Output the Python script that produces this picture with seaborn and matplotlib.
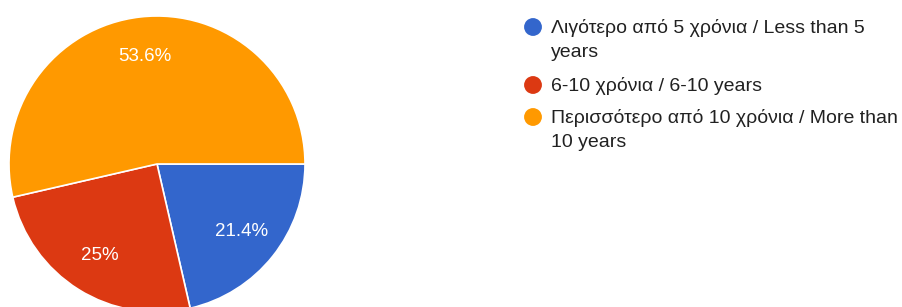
import seaborn as sns
import matplotlib.pyplot as plt
import numpy as np

labels = [
    "Λιγότερο από 5 χρόνια / Less than 5\nyears",
    "6-10 χρόνια / 6-10 years",
    "Περισσότερο από 10 χρόνια / More than\n10 years",
]
shares = [21.4, 25.0, 53.6]
pct_text = ["21.4%", "25%", "53.6%"]
colors = sns.color_palette(["#3366CC", "#DC3912", "#FF9900"])

sns.set_theme(style="white")
plt.rcParams["font.family"] = ["Liberation Sans", "DejaVu Sans"]

W, H = 903, 307
fig = plt.figure(figsize=(W / 100, H / 100), dpi=100)

# pie: centre ~ (157, 164) px, radius ~148 px
cx, cy, r = 157, 164, 148
ax = fig.add_axes([(cx - r) / W, (H - cy - r) / H, 2 * r / W, 2 * r / H])
wedges, _ = ax.pie(
    shares, colors=colors, startangle=0, counterclock=False,
    wedgeprops=dict(edgecolor="white", linewidth=1.2),
)
ax.set_xlim(-1, 1)
ax.set_ylim(-1, 1)
ax.set_aspect("equal")
ax.axis("off")

# percentage labels
start = 0.0
for val, txt in zip(shares, pct_text):
    mid = np.deg2rad(start - val * 3.6 / 2)
    d = 0.73
    ax.text(d * np.cos(mid), d * np.sin(mid), txt, ha="center", va="center",
            color="white", fontsize=13.5)
    start -= val * 3.6

# legend drawn on an overlay in pixel coords
lg = fig.add_axes([0, 0, 1, 1])
lg.set_xlim(0, W)
lg.set_ylim(H, 0)
lg.axis("off")
lg.patch.set_alpha(0)
ys = [27, 85, 117]
for y, lab, c in zip(ys, labels, colors):
    lg.scatter([533], [y], s=165, color=c, edgecolor="none")
    lg.text(551, y - 8, lab, ha="left", va="top", fontsize=14, color="#212121",
            linespacing=1.55)

fig.savefig("out.png", dpi=100)
